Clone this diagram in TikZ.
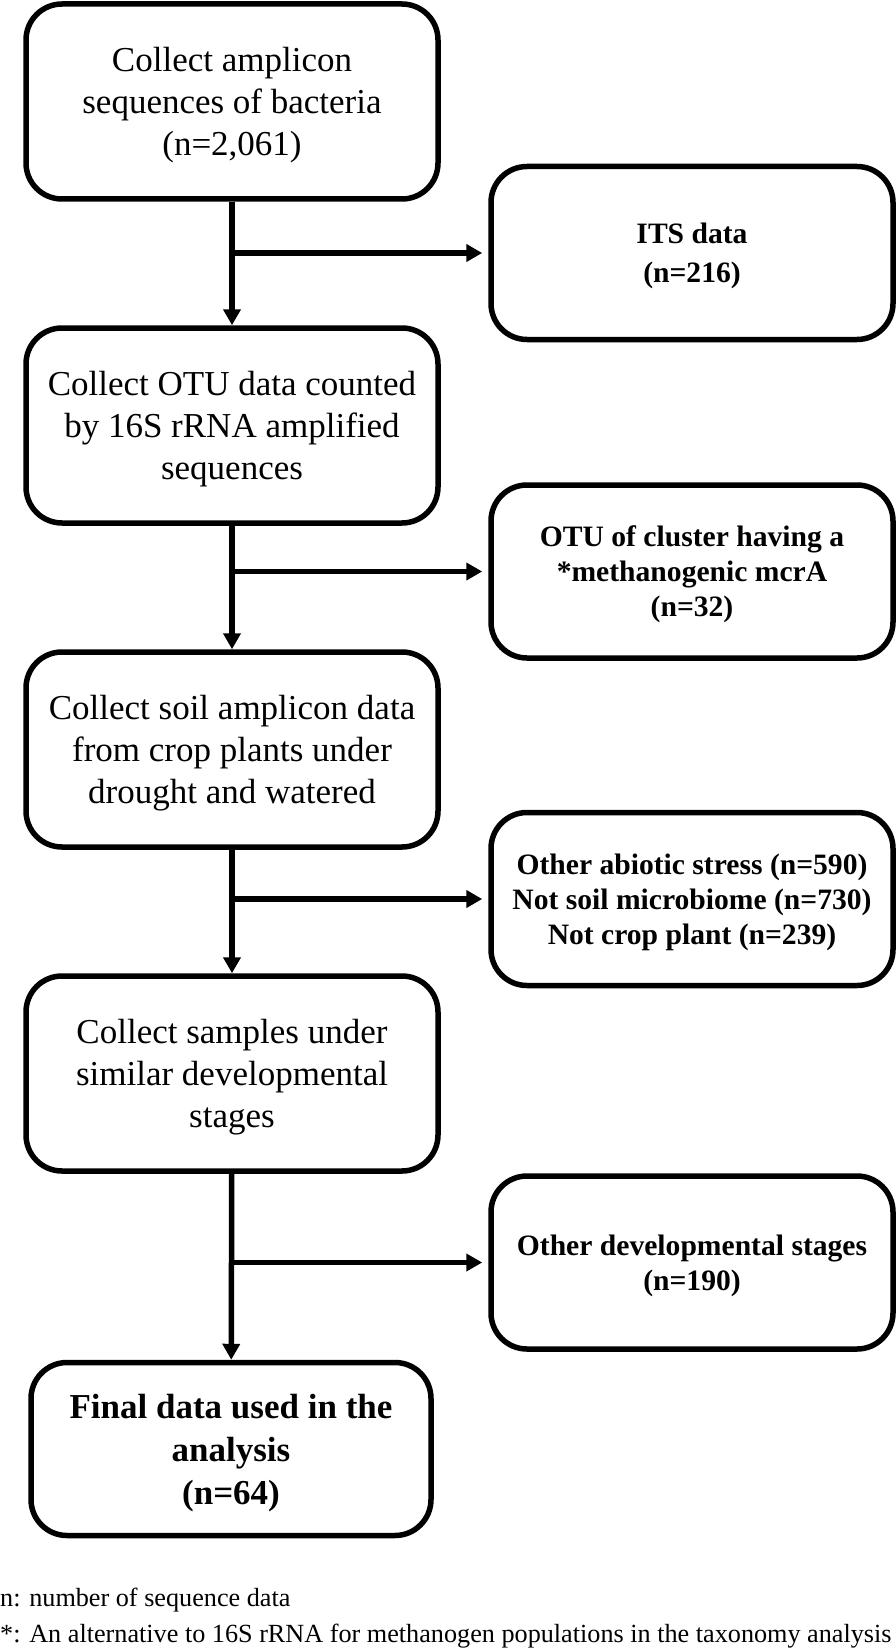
\documentclass[tikz,border=0pt]{standalone}
\usepackage{fontspec}
\setmainfont{Liberation Serif}
\usetikzlibrary{arrows.meta,positioning}
\tikzset{step-box/.style={draw,line width=5.5pt,rounded corners=36pt,align=center,inner sep=0pt,text depth=-7pt},
  main-box/.style={step-box,minimum width=412pt,minimum height=195pt,font=\fontsize{35}{42}\selectfont},
  out-box/.style={step-box,minimum width=402pt,minimum height=173pt,font=\fontsize{29.6}{35}\selectfont\bfseries},
  flow/.style={line width=5.5pt,-{Triangle[length=16pt,width=17pt]}},
  note/.style={anchor=base west,inner sep=0pt,font=\fontsize{26.2}{30}\selectfont}}

\begin{document}
\begin{tikzpicture}[x=1pt,y=-1pt]
\useasboundingbox (0,0) rectangle (896,1648);

% Nodes
\node[main-box] (amplicon) at (232,101.5) {Collect amplicon\\sequences of bacteria\\(n=2,061)};
\node[main-box] (otu) at (232,425.5) {Collect OTU data counted\\by 16S rRNA amplified\\sequences};
\node[main-box] (soil) at (232,749.5) {Collect soil amplicon data\\from crop plants under\\drought and watered};
\node[main-box] (stages) at (232,1073.5) {Collect samples under\\similar developmental\\stages};
\node[main-box,minimum width=400pt,minimum height=173pt,font=\fontsize{35}{43}\selectfont\bfseries] (final) at (231,1449) {Final data used in the\\analysis\\(n=64)};

% Excluded data
\node[out-box] (its) at (692,253) {ITS data\\[4pt](n=216)};
\node[out-box] (mcra) at (692,571.5) {OTU of cluster having a\\*methanogenic mcrA\\(n=32)};
\node[out-box] (abiotic) at (692,899) {Other abiotic stress (n=590)\\Not soil microbiome (n=730)\\Not crop plant (n=239)};
\node[out-box] (other-stages) at (692,1262.5) {Other developmental stages\\(n=190)};

% The main flow
\draw[flow] (amplicon) -- (otu);
\draw[flow] (otu) -- (soil);
\draw[flow] (soil) -- (stages);
\draw[flow] (stages) -- (final);

% Side arrows
\draw[flow,shorten >=6pt] (amplicon.south |- its.west) -- (its.west);
\draw[flow,shorten >=6pt] (otu.south |- mcra.west) -- (mcra.west);
\draw[flow,shorten >=6pt] (soil.south |- abiotic.west) -- (abiotic.west);
\draw[flow,shorten >=6pt] (stages.south |- other-stages.west) -- (other-stages.west);

% Notes
\node[note] (note-n) at (0,1606) {n: number of sequence data};
\node[note] (note-star) at (0,1642) {*: An alternative to 16S rRNA for methanogen populations in the taxonomy analysis};

\end{tikzpicture}
\end{document}
